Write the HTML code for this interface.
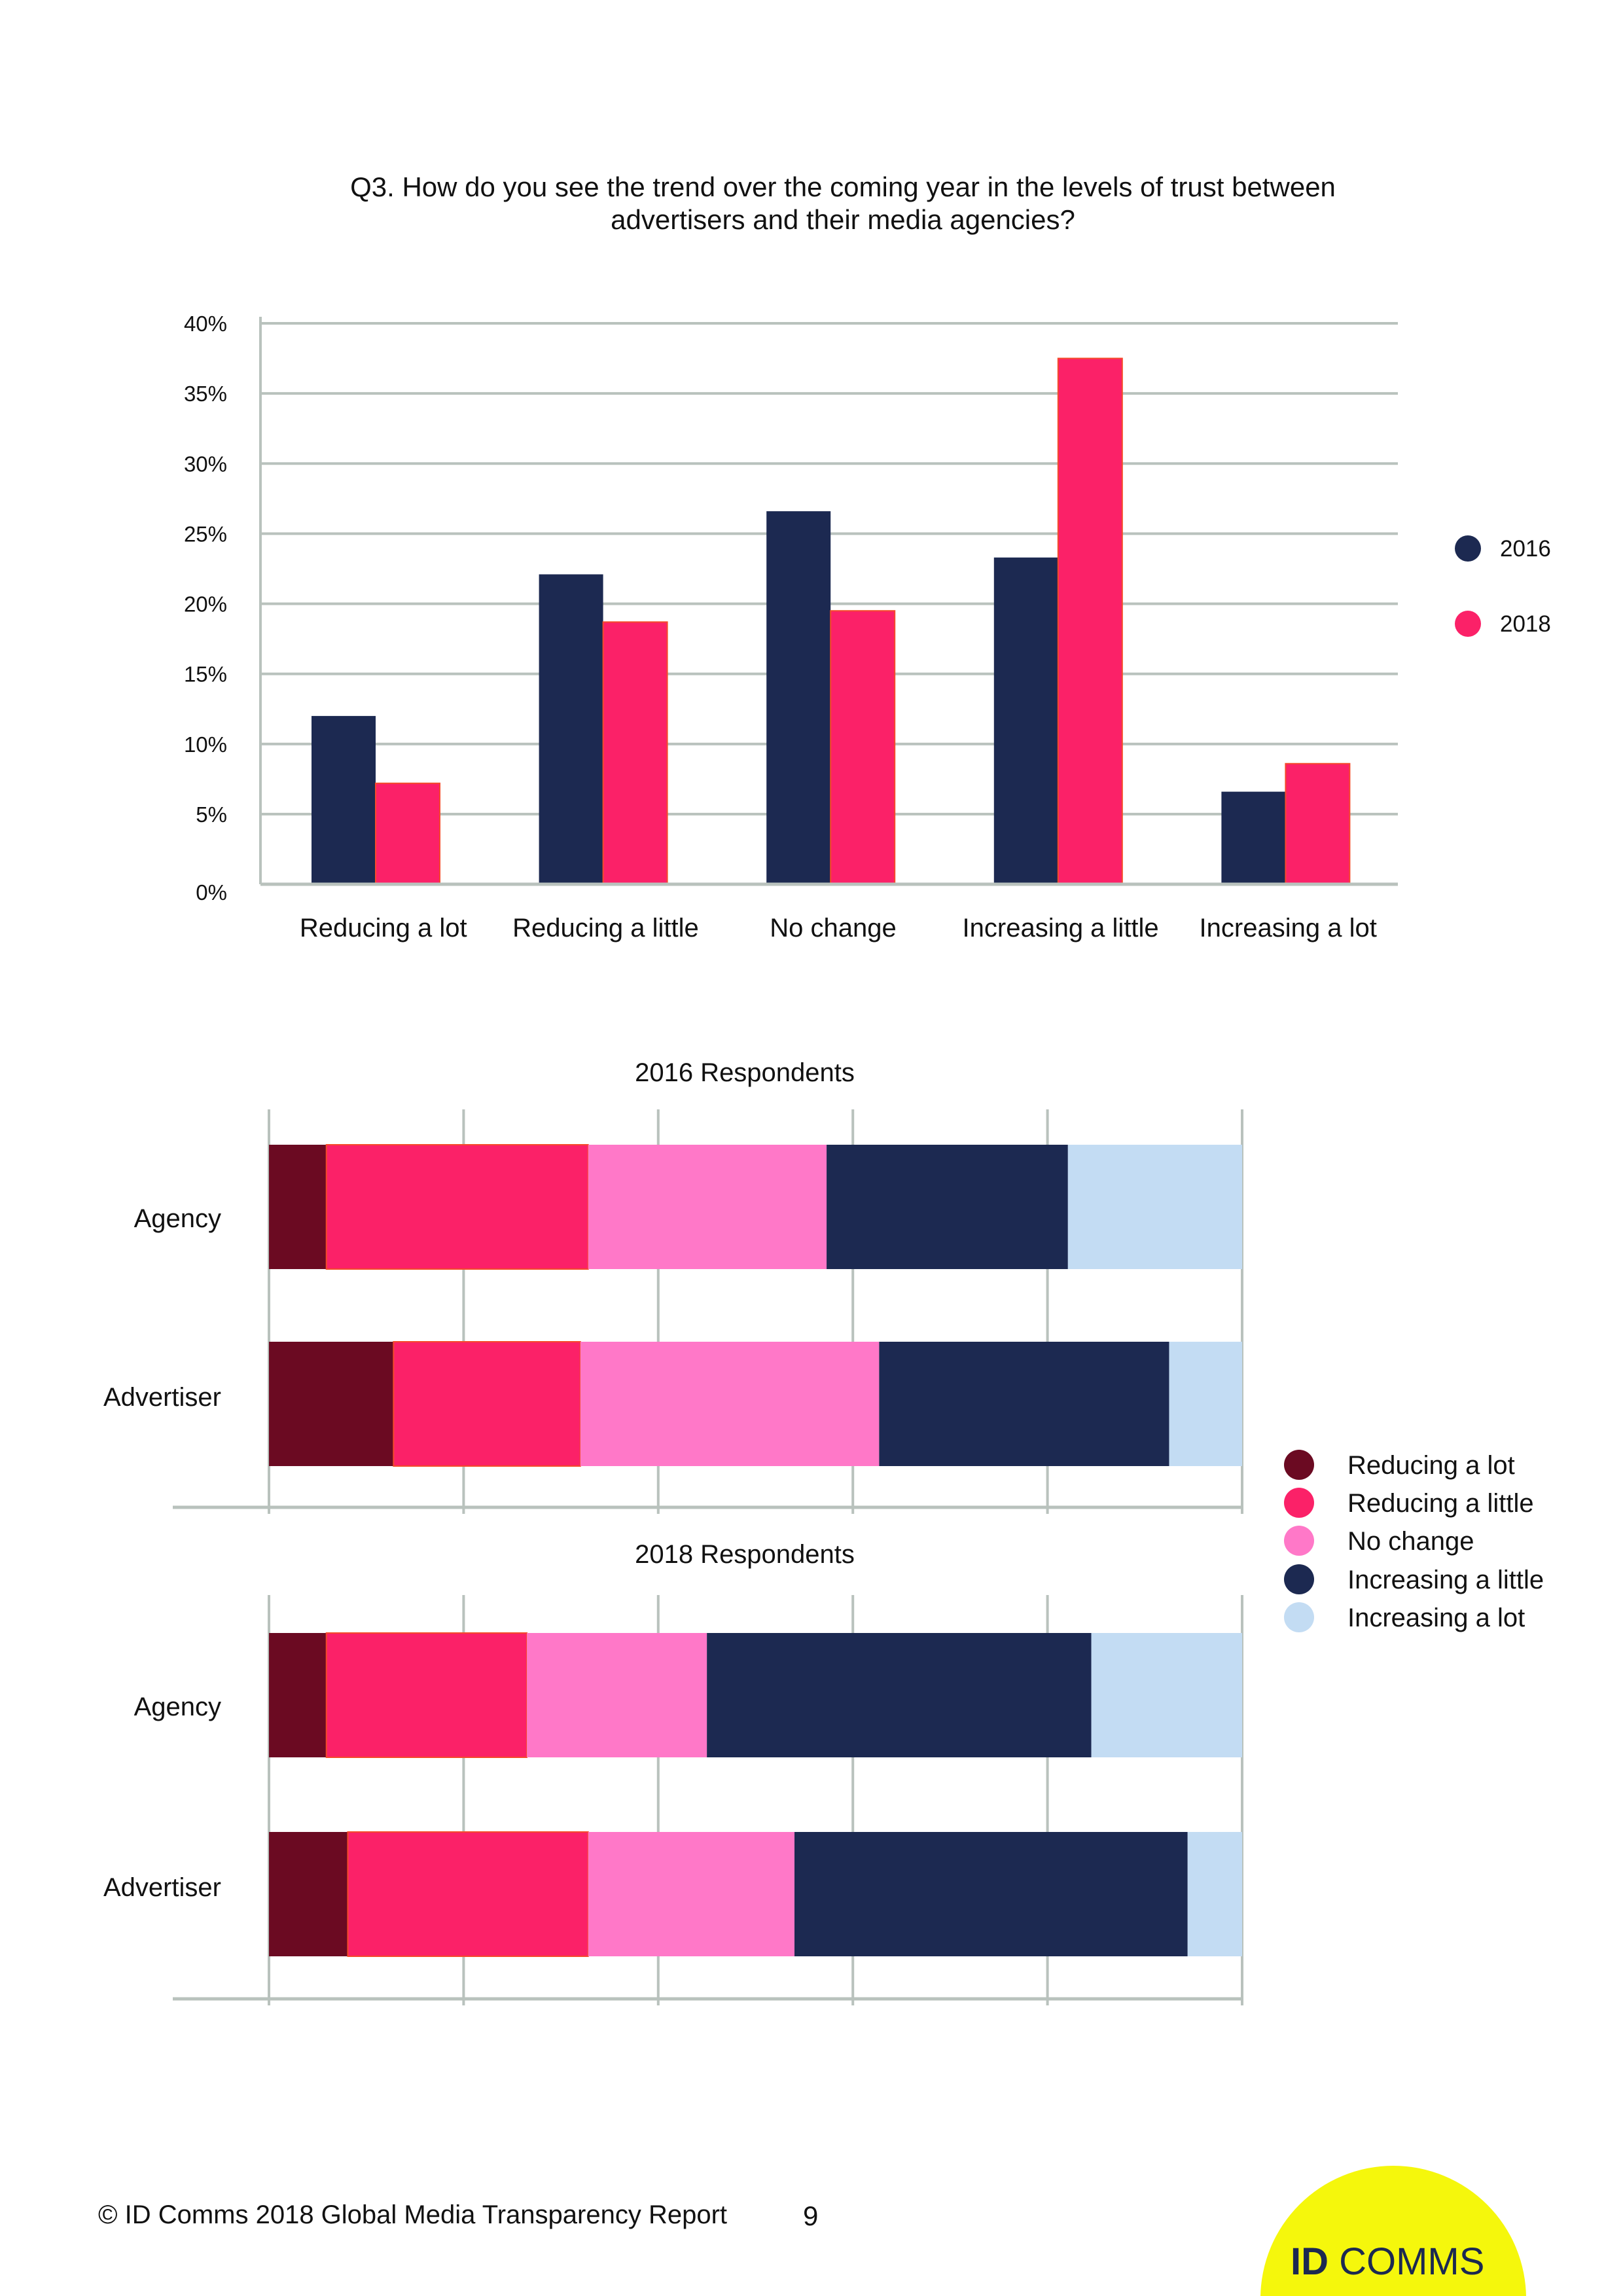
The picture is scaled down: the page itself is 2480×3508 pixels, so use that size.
<!DOCTYPE html>
<html><head><meta charset="utf-8">
<style>
html,body{margin:0;padding:0;background:#fff;}
body{width:2480px;height:3508px;position:relative;overflow:hidden;font-family:"Liberation Sans",sans-serif;}
svg{position:absolute;left:0;top:0;display:block;}
</style></head>
<body>
<svg id="page" width="2480" height="3508" viewBox="0 0 2480 3508" xmlns="http://www.w3.org/2000/svg">
  <g font-size="42" fill="#111" text-anchor="middle">
    <text x="1288" y="300">Q3. How do you see the trend over the coming year in the levels of trust between</text>
    <text x="1288" y="350">advertisers and their media agencies?</text>
  </g>
  <g id="barchart"></g>
  <g font-size="35" fill="#111">
    <circle cx="2243" cy="838" r="20" fill="#1c2951"/>
    <text x="2292" y="850">2016</text>
    <circle cx="2243" cy="953" r="20" fill="#fb2168"/>
    <text x="2292" y="965">2018</text>
  </g>
  <g id="stack2016"></g>
  <g id="stack2018"></g>
  <g id="stacklegend"></g>
  <text x="150" y="3397" font-size="40" fill="#111">© ID Comms 2018 Global Media Transparency Report</text>
  <text x="1227" y="3400" font-size="42" fill="#111">9</text>
  <circle cx="2129" cy="3512" r="203" fill="#f5f70c"/>
  <text x="1972" y="3475" font-size="58" fill="#1c2951"><tspan font-weight="bold">ID</tspan> COMMS</text>
</svg>
<script>
const NS="http://www.w3.org/2000/svg";
const categories=["Reducing a lot","Reducing a little","No change","Increasing a little","Increasing a lot"];
const values2016=[12,22.1,26.6,23.3,6.6];
const values2018=[7.2,18.7,19.5,37.5,8.6];
const yTicks=[0,5,10,15,20,25,30,35,40];
const rows=["Agency","Advertiser"];
const resp2016Agency=[5.9,26.9,24.5,24.8,17.9];
const resp2016Advertiser=[12.8,19.2,30.7,29.8,7.5];
const resp2018Agency=[5.9,20.6,18.5,39.5,15.5];
const resp2018Advertiser=[8.1,24.7,21.2,40.4,5.6];
const xTicksPct=[0,20,40,60,80,100];
const segColors=["#6b0a22","#fb2168","#ff78c8","#1c2951","#c3dcf3"];
const segNames=["reducing-a-lot","reducing-a-little","no-change","increasing-a-little","increasing-a-lot"];

function mk(tag,attrs,parent){const e=document.createElementNS(NS,tag);for(const k in attrs)e.setAttribute(k,attrs[k]);parent.appendChild(e);return e;}

const bc=document.getElementById('barchart');
const L=398,R=2136,Y0=1351,Y40=494;
const y=v=>Y0-(v/40)*(Y0-Y40);
const catW=(R-L)/categories.length;
yTicks.forEach(t=>{
  if(t>0){const g=mk('line',{x1:L,x2:R,y1:y(t),y2:y(t),stroke:'#b9c2bd','stroke-width':4},bc);
  
  }
  const tx=mk('text',{x:347,y:y(t)+12+(t===0?12:0),'font-size':33,fill:'#111','text-anchor':'end'},bc);
  tx.textContent=t+'%';
  
  
});
categories.forEach((c,i)=>{
  const gx=L+i*catW+78;
  const b1=mk('rect',{x:gx,y:y(values2016[i]),width:98,height:Y0-y(values2016[i]),fill:'#1c2951'},bc);
  
  
  const b2=mk('rect',{x:gx+98,y:y(values2018[i]),width:98,height:Y0-y(values2018[i]),fill:'#fb2168',stroke:'#f54a2a','stroke-width':2},bc);
  
  
  const t=mk('text',{x:L+i*catW+catW/2+(i===0?14:6),y:1431,'font-size':40,fill:'#111','text-anchor':'middle'},bc);
  t.textContent=c;
  
  
});
const ax=mk('line',{x1:L,x2:L,y1:484,y2:Y0,stroke:'#b9c2bd','stroke-width':4},bc);


const bx=mk('line',{x1:L,x2:R,y1:Y0,y2:Y0,stroke:'#b9c2bd','stroke-width':5},bc);



const SL=411,SR=1898;
const sx=p=>SL+p/100*(SR-SL);
const labelOff=[126,98];
function stacked(id,title,titleY,top,axisY,rowTops,data){
  const g=document.getElementById(id);
  const tt=mk('text',{x:1138,y:titleY,'font-size':40,fill:'#111','text-anchor':'middle'},g);
  tt.textContent=title;
  
  
  xTicksPct.forEach(p=>{
    const l=mk('line',{x1:sx(p),x2:sx(p),y1:top,y2:axisY+10,stroke:'#b9c2bd','stroke-width':4},g);
    
    
  });
  rows.forEach((r,ri)=>{
    let acc=0;
    data[ri].forEach((v,si)=>{
      const rc=mk('rect',{x:sx(acc),y:rowTops[ri],width:sx(acc+v)-sx(acc),height:190,fill:segColors[si]},g);
      if(si===1){rc.setAttribute('stroke','#f54a2a');rc.setAttribute('stroke-width','2');}
      
      
      acc+=v;
    });
    const lb=mk('text',{x:338,y:rowTops[ri]+labelOff[ri],'font-size':40,fill:'#111','text-anchor':'end'},g);
    lb.textContent=r;
    
    
  });
  const a=mk('line',{x1:264,x2:SR,y1:axisY,y2:axisY,stroke:'#b9c2bd','stroke-width':5},g);
  
  
}
stacked('stack2016','2016 Respondents',1652,1695,2303,[1749,2050],[resp2016Agency,resp2016Advertiser]);
stacked('stack2018','2018 Respondents',2388,2437,3054,[2495,2799],[resp2018Agency,resp2018Advertiser]);

const lg=document.getElementById('stacklegend');
const legYs=[2238,2296,2354,2413,2471];
categories.forEach((c,i)=>{
  const ci=mk('circle',{cx:1985,cy:legYs[i],r:23,fill:segColors[i]},lg);
  
  
  const t=mk('text',{x:2059,y:legYs[i]+14,'font-size':40,fill:'#111'},lg);
  t.textContent=c;
  
  
});
</script>
</body></html>
